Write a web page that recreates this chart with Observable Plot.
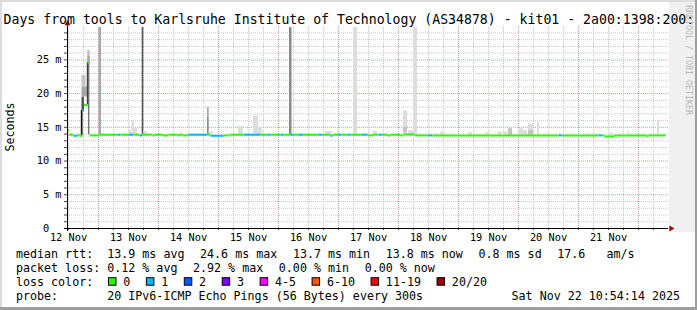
<!DOCTYPE html>
<html>
<head>
<meta charset="utf-8">
<script src="https://cdn.jsdelivr.net/npm/d3@7"></script>
<script src="https://cdn.jsdelivr.net/npm/@observablehq/plot@0.6"></script>
<style>
  html, body { margin: 0; padding: 0; background: #ffffff; }
  #chart svg { display: block; }
</style>
</head>
<body>
<div id="chart"></div>
<script>
// ---------- data ----------
const titleText = "Days from tools to Karlsruhe Institute of Technology (AS34878) - kit01 - 2a00:1398:200::1";
const yAxisTitle = "Seconds";
const rangeStart = "2025-11-12T11:36";
const rangeEnd = "2025-11-22T12:00";
const lastSample = "2025-11-22T10:54";

// median rtt (ms), step segments starting at medianTime, loss = index into lossLabels
const medianTime = [
  "2025-11-12T11:36","2025-11-12T12:12","2025-11-12T14:00","2025-11-12T15:36","2025-11-12T16:24",
  "2025-11-12T17:36","2025-11-12T18:12","2025-11-12T19:36","2025-11-12T20:24","2025-11-13T00:24",
  "2025-11-13T07:36","2025-11-13T08:48","2025-11-13T12:00","2025-11-13T14:00","2025-11-13T16:24",
  "2025-11-13T17:36","2025-11-13T21:36","2025-11-13T22:12","2025-11-14T01:36","2025-11-14T04:00",
  "2025-11-14T07:36","2025-11-14T08:12","2025-11-14T09:36","2025-11-14T12:00","2025-11-14T19:36",
  "2025-11-14T20:48","2025-11-15T02:00","2025-11-15T03:36","2025-11-15T04:00","2025-11-15T04:48",
  "2025-11-15T10:00","2025-11-15T16:48","2025-11-15T19:36","2025-11-15T20:48","2025-11-16T00:48",
  "2025-11-16T02:00","2025-11-16T04:48","2025-11-16T06:00","2025-11-16T08:00","2025-11-16T10:00",
  "2025-11-16T16:00","2025-11-16T17:36","2025-11-16T20:48","2025-11-16T21:36","2025-11-17T00:00",
  "2025-11-17T01:12","2025-11-17T03:36","2025-11-17T04:48","2025-11-17T09:12","2025-11-17T11:36",
  "2025-11-17T13:36","2025-11-17T16:00","2025-11-17T17:36","2025-11-17T19:36","2025-11-17T20:48",
  "2025-11-18T00:48","2025-11-18T02:00","2025-11-18T06:24","2025-11-18T12:00","2025-11-18T13:36",
  "2025-11-20T16:00","2025-11-20T17:36","2025-11-21T08:00","2025-11-21T09:36","2025-11-21T10:24",
  "2025-11-21T14:24","2025-11-22T03:12","2025-11-22T04:00"
];
const medianValue = [
  14.6, 13.9, 13.75, 13.85, 13.75,
  17.5, 18.3, 24.6, 13.8, 13.9,
  13.9, 13.9, 13.9, 13.9, 13.8,
  13.9, 13.8, 13.9, 13.8, 13.9,
  13.8, 13.9, 13.8, 13.9, 13.9,
  13.75, 13.8, 13.9, 13.8, 13.9,
  13.9, 13.9, 13.9, 13.9, 13.9,
  13.9, 13.9, 13.9, 13.9, 13.9,
  13.9, 13.9, 13.75, 13.9, 13.9,
  13.9, 13.9, 13.9, 13.9, 13.8,
  13.9, 13.9, 13.9, 13.8, 13.9,
  13.8, 13.95, 13.8, 13.8, 13.8,
  13.8, 13.8, 13.8, 13.8, 13.65,
  13.8, 13.7, 13.8
];
const medianLoss = [
  0,0,1,0,0,
  1,0,0,0,0,
  1,0,1,0,1,
  0,0,0,0,0,
  0,0,0,1,0,
  1,0,0,0,0,
  1,0,1,0,1,
  0,1,0,1,0,
  1,0,1,0,1,
  0,1,0,1,0,
  0,1,0,0,0,
  0,0,0,1,0,
  1,0,1,0,0,
  0,0,0
];

// smoke (spread of the 20 pings): time span, low/high rtt (ms), density level 1..6
const smokeFrom = [
  "2025-11-12T17:07","2025-11-12T17:24","2025-11-12T17:24","2025-11-12T17:24","2025-11-12T19:32",
  "2025-11-12T19:41","2025-11-12T19:41","2025-11-12T20:10","2025-11-13T00:12","2025-11-13T12:00",
  "2025-11-13T13:24","2025-11-13T14:24","2025-11-13T17:29","2025-11-13T18:07","2025-11-14T19:36",
  "2025-11-14T19:36","2025-11-14T20:17","2025-11-15T08:00","2025-11-15T14:00","2025-11-15T16:00",
  "2025-11-16T04:24","2025-11-16T18:48","2025-11-17T06:00","2025-11-17T14:00","2025-11-18T02:00",
  "2025-11-18T02:00","2025-11-18T04:00","2025-11-18T06:00","2025-11-18T16:48","2025-11-19T04:00",
  "2025-11-19T10:48","2025-11-19T16:00","2025-11-19T18:00","2025-11-19T20:00","2025-11-20T00:00",
  "2025-11-20T02:00","2025-11-20T04:00","2025-11-20T04:00","2025-11-20T07:36","2025-11-21T12:00",
  "2025-11-21T19:36","2025-11-22T07:36"
];
const smokeTo = [
  "2025-11-12T17:48","2025-11-12T18:24","2025-11-12T19:30","2025-11-12T19:00","2025-11-12T19:55",
  "2025-11-12T20:43","2025-11-12T20:43","2025-11-12T20:29","2025-11-13T01:12","2025-11-13T13:24",
  "2025-11-13T14:24","2025-11-13T15:36","2025-11-13T18:07","2025-11-13T19:36","2025-11-14T20:17",
  "2025-11-14T20:17","2025-11-14T22:00","2025-11-15T10:00","2025-11-15T16:00","2025-11-15T17:36",
  "2025-11-16T05:24","2025-11-16T21:36","2025-11-17T07:36","2025-11-17T15:36","2025-11-18T03:36",
  "2025-11-18T03:36","2025-11-18T06:00","2025-11-18T07:36","2025-11-18T18:00","2025-11-19T05:36",
  "2025-11-19T12:00","2025-11-19T17:36","2025-11-19T19:36","2025-11-19T21:36","2025-11-20T02:00",
  "2025-11-20T03:36","2025-11-20T06:00","2025-11-20T06:00","2025-11-20T08:24","2025-11-21T14:00",
  "2025-11-21T20:12","2025-11-22T08:24"
];
const smokeLow = [
  13.8,17.5,19.5,21.0,18.3, 24.6,25.5,13.9,13.9,13.9,
  13.9,13.9,13.9,13.9,13.9, 16.5,13.9,13.9,13.9,13.9,
  13.9,13.9,13.9,13.9,13.9, 14.2,13.9,13.8,13.8,13.8,
  13.8,13.8,13.8,13.8,13.8, 13.8,13.8,13.8,13.8,13.7,
  13.8,13.8
];
const smokeHigh = [
  17.5,19.5,21.0,22.7,24.6, 25.5,26.4,24.6,30,14.5,
  16.0,14.8,30,14.4,16.5, 17.95,14.3,15.1,16.7,15.0,
  30,14.4,30,14.4,17.4, 15.0,14.5,30,14.3,14.2,
  14.2,14.3,14.3,14.8,14.8, 14.5,15.5,14.5,15.75,14.1,
  14.4,16.0
];
const smokeDensity = [
  6,5,3,2,6, 3,2,6,3,1,
  1,1,5,1,4, 3,1,1,1,1,
  4,1,1,1,1, 2,1,1,1,1,
  1,1,1,2,1, 1,1,2,1,1,
  1,1
];

// legend
const lossLabels = ["0","1","2","3","4-5","6-10","11-19","20/20"];
const rowHeads = ["median rtt:", "packet loss:", "loss color:", "probe:"];
const rttStats = ["13.9 ms avg", "24.6 ms max", "13.7 ms min", "13.8 ms now", "0.8 ms sd", "17.6   am/s"];
const lossStats = ["0.12 % avg", "2.92 % max", "0.00 % min", "0.00 % now"];
const probeText = "20 IPv6-ICMP Echo Pings (56 Bytes) every 300s";
const stampText = "Sat Nov 22 10:54:14 2025";
const watermark = "RRDTOOL / TOBI OETIKER";

// ---------- styles ----------
const lossColors = ["#26ff00","#00b8ff","#0059ff","#7e00ff","#ff00ff","#ff5500","#ff0000","#a10000"];
const smokeGrays = ["#ffffff","#dddddd","#c4c4c4","#a8a8a8","#8a8a8a","#555555","#111111"];
const FONT = "'DejaVu Sans Mono', monospace";

// ---------- build ----------
const parse = s => new Date(s + ":00Z");
const tStart = parse(rangeStart), tEnd = parse(rangeEnd);
const yMax = 29.8;

const segs = medianTime.map((t, i) => ({
  x1: parse(t),
  x2: parse(i + 1 < medianTime.length ? medianTime[i + 1] : lastSample),
  y: medianValue[i],
  c: lossColors[medianLoss[i]]
}));
const smoke = smokeFrom.map((t, i) => ({
  x1: parse(t), x2: parse(smokeTo[i]),
  y1: smokeLow[i], y2: Math.min(smokeHigh[i], yMax),
  c: smokeGrays[smokeDensity[i]]
}));

const sixHours = d3.utcHour.every(6).range(tStart, tEnd);
const midnights = sixHours.filter(d => d.getUTCHours() === 0);
const minorX = sixHours.filter(d => d.getUTCHours() !== 0);
const noons = d3.utcDay.range(d3.utcDay.floor(tStart), tEnd).map(d => d3.utcHour.offset(d, 12)).filter(d => d >= tStart && d < tEnd);
const oneMs = d3.range(1, 30);
const minorY = oneMs.filter(v => v % 5 !== 0);
const majorY = oneMs.filter(v => v % 5 === 0);

const chart = Plot.plot({
  width: 697, height: 310,
  marginLeft: 67, marginRight: 29, marginTop: 27, marginBottom: 82,
  style: {fontFamily: FONT, background: "transparent", color: "#000", overflow: "visible"},
  x: {type: "utc", domain: [tStart, tEnd], axis: null},
  y: {domain: [0, yMax], axis: null},
  color: {type: "identity"},
  marks: [
    Plot.ruleX(minorX, {stroke: "#c8c8c8", strokeDasharray: "1,1"}),
    Plot.ruleY(minorY, {stroke: "#c8c8c8", strokeDasharray: "1,1"}),
    Plot.ruleX(midnights, {stroke: "#ff8c8c", strokeDasharray: "1,1"}),
    Plot.ruleY(majorY, {stroke: "#ff8c8c", strokeDasharray: "1,1"}),
    Plot.rect(smoke, {x1: "x1", x2: "x2", y1: "y1", y2: "y2", fill: "c", clip: true}),
    Plot.link(segs, {x1: "x1", x2: "x2", y1: "y", y2: "y", stroke: "c", strokeWidth: 2}),
    // axis ticks
    Plot.ruleY(oneMs, {x1: () => tStart, x2: () => tStart, insetLeft: -3, stroke: "#444"}),
    Plot.ruleX(sixHours, {y1: () => 0, y2: () => 0, insetBottom: -2, stroke: "#444"}),
    // axis lines
    Plot.ruleY([0], {stroke: "#000", insetLeft: -3}),
    Plot.ruleX([tStart], {stroke: "#000", insetBottom: -3, insetTop: -3}),
    Plot.dot([tEnd], {x: d => d, y: () => 0, symbol: "triangle", r: 2.2, rotate: 90, dx: 2.5, fill: "#a00000", stroke: "none"}),
    Plot.dot([tStart], {x: d => d, y: () => yMax, symbol: "triangle", r: 2.2, dy: -4, fill: "#a00000", stroke: "none"}),
    // labels
    Plot.axisX({ticks: noons, tickSize: 0, tickPadding: 5.5, tickFormat: d3.utcFormat("%-d %b"), fontSize: 10.3, fill: "#000", label: null}),
    Plot.axisY({ticks: [0, 5, 10, 15, 20, 25], tickSize: 0, tickPadding: 6, tickFormat: d => d === 0 ? "0\u00a0\u00a0" : `${d} m`, fontSize: 10.3, fill: "#000", label: null})
  ]
});

const svg = d3.select(chart);
// background pieces
const bg = svg.insert("g", ":first-child");
bg.append("rect").attr("x", 0).attr("y", 0).attr("width", 697).attr("height", 310).attr("fill", "#ffffff");
bg.append("rect").attr("x", 669).attr("y", 2).attr("width", 26).attr("height", 230).attr("fill", "#f0f0f0");
bg.append("rect").attr("x", 0).attr("y", 0).attr("width", 697).attr("height", 2).attr("fill", "#dcdcdc");
bg.append("rect").attr("x", 0).attr("y", 0).attr("width", 2).attr("height", 310).attr("fill", "#dcdcdc");
bg.append("rect").attr("x", 695).attr("y", 0).attr("width", 2).attr("height", 310).attr("fill", "#9e9e9e");
bg.append("rect").attr("x", 0).attr("y", 307).attr("width", 697).attr("height", 3).attr("fill", "#9e9e9e");

const ann = svg.append("g").attr("font-family", FONT).attr("fill", "#000").attr("text-anchor", "start");
ann.append("text").attr("x", 3.5).attr("y", 23.5).attr("font-size", 13.2).text(titleText);
ann.append("text").attr("transform", "translate(14,127) rotate(-90)").attr("text-anchor", "middle")
  .attr("font-size", 11.66).text(yAxisTitle);
ann.append("text").attr("transform", "translate(685.5,5) rotate(90)").attr("font-size", 8.3)
  .attr("fill", "#b8b8b8").text(watermark);

const FS = 11.66, CW = FS * 0.602, GAP = 15.6;
const rowY = [258.3, 272.2, 286.0, 299.8];
const col2 = 16 + 13 * CW;
rowHeads.forEach((h, i) => {
  ann.append("text").attr("x", 16).attr("y", rowY[i]).attr("font-size", FS).text(h);
});
function itemRow(items, y) {
  let x = col2;
  items.forEach(s => {
    ann.append("text").attr("x", x).attr("y", y).attr("font-size", FS).style("white-space", "pre").text(s);
    x += s.length * CW + GAP;
  });
}
itemRow(rttStats, rowY[0]);
itemRow(lossStats, rowY[1]);
{
  let x = col2 + 0.7;
  lossLabels.forEach((lab, i) => {
    ann.append("rect").attr("x", x + 0.5).attr("y", rowY[2] - 8.3).attr("width", 7.5).attr("height", 7.5)
      .attr("fill", lossColors[i]).attr("stroke", "#000").attr("stroke-width", 1);
    ann.append("text").attr("x", x + 15.3).attr("y", rowY[2]).attr("font-size", FS).text(lab);
    x += 15.3 + lab.length * CW + GAP;
  });
}
ann.append("text").attr("x", col2).attr("y", rowY[3]).attr("font-size", FS).text(probeText);
ann.append("text").attr("x", 680).attr("y", rowY[3]).attr("font-size", FS).attr("text-anchor", "end").text(stampText);

document.getElementById("chart").appendChild(chart);
</script>
</body>
</html>
